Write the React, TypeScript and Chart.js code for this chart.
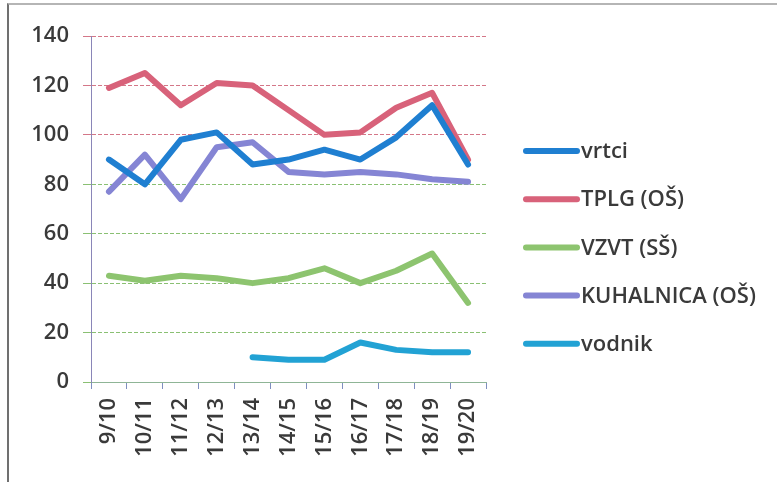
import React, { useEffect, useRef } from "react";
import { Chart, registerables } from "chart.js";

Chart.register(...registerables);

const categories = ["9/10", "10/11", "11/12", "12/13", "13/14", "14/15", "15/16", "16/17", "17/18", "18/19", "19/20"];
const vrtci = [90, 80, 98, 101, 88, 90, 94, 90, 99, 112, 88];
const tplg = [119, 125, 112, 121, 120, 110, 100, 101, 111, 117, 90];
const vzvt = [43, 41, 43, 42, 40, 42, 46, 40, 45, 52, 32];
const kuhalnica = [77, 92, 74, 95, 97, 85, 84, 85, 84, 82, 81];
const vodnik = [null, null, null, null, 10, 9, 9, 16, 13, 12, 12];

const seriesLabels = ["vrtci", "TPLG (OŠ)", "VZVT (SŠ)", "KUHALNICA (OŠ)", "vodnik"];
const seriesColors = ["#1f7fd1", "#d8627a", "#8dc46f", "#8585d4", "#22a2d4"];
const yTicks = [0, 20, 40, 60, 80, 100, 120, 140];

const FONT = '"Open Sans", "Liberation Sans", sans-serif';

const legendPlugin = {
  id: "sideLegend",
  afterDraw(chart: any) {
    const ctx = chart.ctx;
    const x0 = 526;
    const x1 = 577;
    const yStart = 151;
    const step = 48.2;
    ctx.save();
    chart.data.datasets.forEach((ds: any, i: number) => {
      const y = yStart + i * step;
      ctx.beginPath();
      ctx.strokeStyle = ds.borderColor;
      ctx.lineWidth = 6;
      ctx.lineCap = "round";
      ctx.moveTo(x0, y);
      ctx.lineTo(x1, y);
      ctx.stroke();
      ctx.fillStyle = "#3a3a3a";
      ctx.font = `600 22px ${FONT}`;
      ctx.textBaseline = "middle";
      ctx.textAlign = "left";
      ctx.fillText(ds.label, 581, y + 1);
    });
    ctx.restore();
  },
};

export default function App() {
  const ref = useRef<HTMLCanvasElement | null>(null);

  useEffect(() => {
    if (!ref.current) return;
    const values = [vrtci, tplg, vzvt, kuhalnica, vodnik];
    const chart = new Chart(ref.current, {
      type: "line",
      data: {
        labels: categories,
        datasets: values.map((v, i) => ({
          label: seriesLabels[i],
          data: v,
          borderColor: seriesColors[i],
          backgroundColor: seriesColors[i],
          borderWidth: 6,
          borderCapStyle: "round",
          borderJoinStyle: "round",
          pointRadius: 0,
          tension: 0,
          spanGaps: false,
          fill: false,
        })),
      },
      options: {
        responsive: false,
        animation: false,
        maintainAspectRatio: false,
        layout: { padding: { top: 36, right: 291, bottom: 0, left: 0 } },
        plugins: {
          legend: { display: false },
          tooltip: { enabled: false },
        },
        scales: {
          x: {
            type: "category",
            offset: true,
            afterFit: (s: any) => {
              s.height = 100;
            },
            grid: {
              offset: true,
              drawOnChartArea: false,
              drawTicks: true,
              tickLength: 7,
              color: "#7f8fbf",
            },
            border: { display: true, color: "#8fb596", width: 1 },
            ticks: {
              autoSkip: false,
              maxRotation: 90,
              minRotation: 90,
              padding: 9,
              color: "#3a3a3a",
              font: { family: FONT, size: 22, weight: "600" },
            },
          },
          y: {
            min: 0,
            max: 140,
            afterFit: (s: any) => {
              s.width = 91;
            },
            afterBuildTicks: (s: any) => {
              s.ticks = yTicks.map((v) => ({ value: v }));
            },
            grid: {
              drawTicks: true,
              tickLength: 8,
              lineWidth: 1,
              color: (c: any) => {
                const v = c.tick ? c.tick.value : 0;
                if (v >= 100) return "rgba(205,95,115,0.85)";
                return "rgba(125,185,100,0.9)";
              },
            },
            border: { display: true, color: "#8a86b8", width: 1, dash: [4, 2] },
            ticks: {
              padding: 14,
              color: "#3a3a3a",
              font: { family: FONT, size: 22, weight: "600" },
            },
          },
        },
      },
      plugins: [legendPlugin],
    } as any);
    return () => chart.destroy();
  }, []);

  return (
    <div style={{ position: "fixed", left: 0, top: 0, width: 777, height: 482, background: "#ffffff" }}>
      <div
        style={{
          position: "absolute",
          left: 7,
          top: 3,
          width: 770,
          height: 479,
          borderTop: "2px solid #b5b5b5",
          borderLeft: "2px solid #707070",
          boxSizing: "border-box",
        }}
      />
      <canvas ref={ref} width={777} height={482} style={{ position: "absolute", left: 0, top: 0 }} />
    </div>
  );
}
